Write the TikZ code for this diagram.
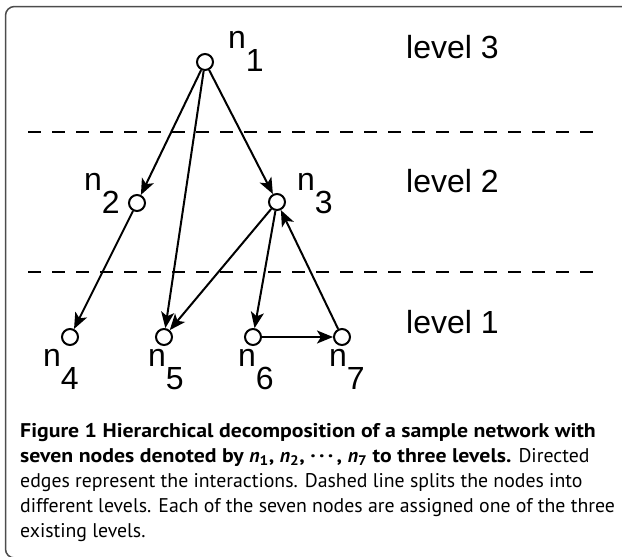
\documentclass[tikz,border=0pt]{standalone}
\usepackage{fontspec}
\setmainfont{Liberation Sans}
\newfontfamily\capfont{PT Sans}[BoldFeatures={FakeStretch=1.1}]
\usetikzlibrary{arrows.meta,positioning}

\tikzset{
  vertex/.style={circle,draw,line width=2pt,minimum size=16pt,inner sep=0pt,fill=white},
  edge/.style={line width=2pt,-{Stealth[length=16pt,width=13pt,inset=4pt]}},
  lbl/.style={anchor=base west,inner sep=0pt,font=\fontsize{32}{32}\selectfont},
  split/.style={line width=2pt,dash pattern=on 13pt off 11pt},
}
\newcommand{\nsub}[1]{n\raisebox{-0.74em}{#1}}

\begin{document}
\begin{tikzpicture}[x=1pt,y=-1pt]
\useasboundingbox (0,0) rectangle (622,557);
\clip (0,0) rectangle (622,557);
\draw[line width=1.5pt,black!70,rounded corners=9pt] (5.5,6.5) rectangle (660,558);
% levels
\draw[split] (28,132) -- (602,132);
\draw[split] (28,272) -- (602,272);
\node[lbl] (lev3) at (406,58) {level 3};
\node[lbl] (lev2) at (406,192) {level 2};
\node[lbl] (lev1) at (406,333) {level 1};
% nodes
\node[vertex] (n1) at (205,62) {};
\node[vertex] (n2) at (137,203) {};
\node[vertex] (n3) at (277,202) {};
\node[vertex] (n4) at (70,337) {};
\node[vertex] (n5) at (164,337) {};
\node[vertex] (n6) at (253,337) {};
\node[vertex] (n7) at (342,337) {};
\node[lbl] (l1) at (228,48) {\nsub{1}};
\node[lbl] (l2) at (84,190) {\nsub{2}};
\node[lbl] (l3) at (297,190) {\nsub{3}};
\node[lbl] (l4) at (43,366) {\nsub{4}};
\node[lbl] (l5) at (148,366) {\nsub{5}};
\node[lbl] (l6) at (238,366) {\nsub{6}};
\node[lbl] (l7) at (329,366) {\nsub{7}};
% edges
\draw[edge] (n1) -- (n2);
\draw[edge] (n1) -- (n5);
\draw[edge] (n1) -- (n3);
\draw[edge] (n2) -- (n4);
\draw[edge] (n3) -- (n5);
\draw[edge] (n3) -- (n6);
\draw[edge] (n6) -- (n7);
\draw[edge] (n7) -- (n3);
% caption
\node[anchor=base west,align=left,inner sep=0pt,font=\capfont\fontsize{19.8}{25}\selectfont] (cap) at (20,537)
  {\textbf{Figure 1 Hierarchical decomposition of a sample network with}\\
   \textbf{seven nodes denoted by \textit{n}\textsubscript{1}, \textit{n}\textsubscript{2}, \textperiodcentered\,\textperiodcentered\,\textperiodcentered\,, \textit{n}\textsubscript{7} to three levels.} Directed\\
   edges represent the interactions. Dashed line splits the nodes into\\
   different levels. Each of the seven nodes are assigned one of the three\\
   existing levels.};
\end{tikzpicture}
\end{document}
